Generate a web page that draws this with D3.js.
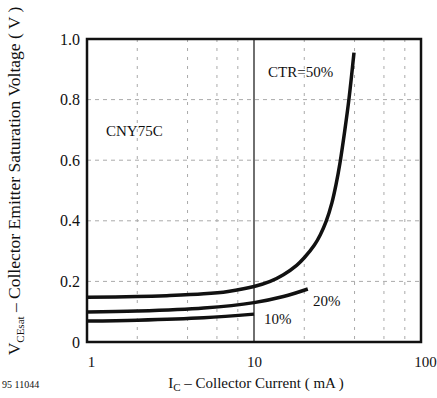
<!DOCTYPE html>
<html>
<head>
<meta charset="utf-8">
<script src="https://cdn.jsdelivr.net/npm/d3@7"></script>
<style>
  body { margin: 0; background: #fff; }
  text { font-family: "Liberation Serif", "Times New Roman", serif; fill: #111; }
</style>
</head>
<body>
<div id="chart"></div>
<script>
const WIDTH_PX = 437;
const HEIGHT_PX = 398;

// Ic in mA, Vce(sat) in V
const ctr50Ic = [1, 2, 3, 5, 7, 10, 12.5, 15, 18, 20, 23, 25, 27, 29.3, 31, 32.7, 35, 37, 39.7];
const ctr50Vce = [0.148, 0.15, 0.153, 0.159, 0.167, 0.183, 0.2, 0.222, 0.253, 0.278, 0.32, 0.355, 0.397, 0.46, 0.52, 0.59, 0.7, 0.8, 0.955];
const ctr20Ic = [1, 2, 5, 10, 15, 21];
const ctr20Vce = [0.099, 0.102, 0.112, 0.13, 0.15, 0.175];
const ctr10Ic = [1, 2, 5, 10];
const ctr10Vce = [0.069, 0.072, 0.08, 0.092];

const xTicks = [1, 10, 100];
const xGrid = [2, 4, 6, 8, 20, 40, 60, 80];
const yTicks = [0, 0.2, 0.4, 0.6, 0.8, 1.0];
const yTickLabels = ['0', '0.2', '0.4', '0.6', '0.8', '1.0'];
const yGrid = [0.2, 0.4, 0.6, 0.8];

let svg = d3.select('#chart').append('svg')
    .attr('width', WIDTH_PX)
    .attr('height', HEIGHT_PX);

let xScale = d3.scaleLog().domain([1, 100]).range([87, 421]);
let yScale = d3.scaleLinear().domain([0, 1]).range([342, 39]);

// dashed grid
svg.append('g').selectAll('line').data(xGrid).join('line')
    .attr('x1', d => xScale(d)).attr('x2', d => xScale(d))
    .attr('y1', yScale(1)).attr('y2', yScale(0))
    .attr('stroke', '#aaa').attr('stroke-width', 1)
    .attr('stroke-dasharray', '3,6');
svg.append('g').selectAll('line').data(yGrid).join('line')
    .attr('x1', xScale(1)).attr('x2', xScale(100))
    .attr('y1', d => yScale(d)).attr('y2', d => yScale(d))
    .attr('stroke', '#aaa').attr('stroke-width', 1)
    .attr('stroke-dasharray', '4,4');

// solid decade line at 10 mA
svg.append('line')
    .attr('x1', xScale(10)).attr('x2', xScale(10))
    .attr('y1', yScale(1)).attr('y2', yScale(0))
    .attr('stroke', '#222').attr('stroke-width', 1.3);

// frame
svg.append('rect')
    .attr('x', xScale(1)).attr('y', yScale(1))
    .attr('width', xScale(100) - xScale(1))
    .attr('height', yScale(0) - yScale(1))
    .attr('fill', 'none').attr('stroke', '#111').attr('stroke-width', 2.5);

// axes, ticks hidden, labels only
let xAxis = svg.append('g')
    .attr('transform', 'translate(0,' + yScale(0) + ')')
    .call(d3.axisBottom(xScale).tickValues(xTicks).tickSize(0).tickPadding(14)
        .tickFormat(d3.format('d')));
xAxis.select('.domain').remove();
xAxis.selectAll('text').attr('font-size', 15).attr('font-family', null)
    .attr('dx', d => d == 10 ? 0 : 4);

let yAxis = svg.append('g')
    .attr('transform', 'translate(' + xScale(1) + ',0)')
    .call(d3.axisLeft(yScale).tickValues(yTicks).tickSize(0).tickPadding(7)
        .tickFormat((d, i) => yTickLabels[i]));
yAxis.select('.domain').remove();
yAxis.selectAll('text').attr('font-size', 16).attr('font-family', null);

// curves
let line = d3.line()
    .x(d => xScale(d[0]))
    .y(d => yScale(d[1]))
    .curve(d3.curveCatmullRom.alpha(0.5));

let curves = [
  d3.zip(ctr50Ic, ctr50Vce),
  d3.zip(ctr20Ic, ctr20Vce),
  d3.zip(ctr10Ic, ctr10Vce)
];
for (let i = 0; i < curves.length; i++) {
  svg.append('path')
      .attr('fill', 'none')
      .attr('d', line(curves[i]))
      .attr('stroke', '#111')
      .attr('stroke-width', 3.5);
}

// labels in the plot
svg.append('text').attr('x', 268).attr('y', 77).attr('font-size', 15).text('CTR=50%');
svg.append('text').attr('x', 106).attr('y', 136).attr('font-size', 15).text('CNY75C');
svg.append('text').attr('x', 313).attr('y', 306).attr('font-size', 15).text('20%');
svg.append('text').attr('x', 264).attr('y', 324).attr('font-size', 15).text('10%');

// axis titles
let xTitle = svg.append('text')
    .attr('x', 256).attr('y', 388)
    .attr('text-anchor', 'middle').attr('font-size', 15);
xTitle.append('tspan').text('I');
xTitle.append('tspan').attr('font-size', 11).attr('dy', 3).text('C');
xTitle.append('tspan').attr('dy', -3).text(' \u2013 Collector Current ( mA )');

let yTitle = svg.append('text')
    .attr('transform', 'translate(20,181) rotate(-90)')
    .attr('text-anchor', 'middle').attr('font-size', 17.5);
yTitle.append('tspan').text('V');
yTitle.append('tspan').attr('font-size', 11).attr('dy', 4).text('CEsat');
yTitle.append('tspan').attr('dy', -4).text(' \u2013 Collector Emitter Saturation Voltage ( V )');

svg.append('text').attr('x', 2).attr('y', 388).attr('font-size', 10).text('95 11044');
</script>
</body>
</html>
